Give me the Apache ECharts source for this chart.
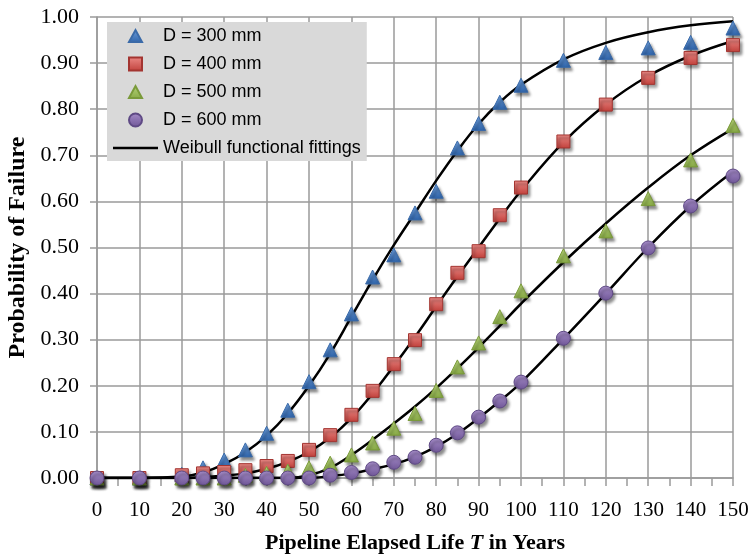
<!DOCTYPE html>
<html>
<head>
<meta charset="utf-8">
<script src="https://cdn.jsdelivr.net/npm/echarts@6/dist/echarts.min.js"></script>
<style>html,body{margin:0;padding:0;background:#fff}#c{width:753px;height:557px}</style>
</head>
<body>
<div id="c"></div>
<script>
// Years at which observations are plotted
var years = [0, 10, 20, 25, 30, 35, 40, 45, 50, 55, 60, 65, 70, 75, 80, 85, 90, 95, 100, 110, 120, 130, 140, 150];
// Observed probability of failure
var d300 = [0, 0, 0.008, 0.022, 0.039, 0.061, 0.097, 0.147, 0.209, 0.278, 0.356, 0.436, 0.484, 0.575, 0.622, 0.716, 0.769, 0.815, 0.852, 0.906, 0.923, 0.933, 0.945, 0.976];
var d400 = [0, 0, 0.006, 0.010, 0.013, 0.017, 0.026, 0.037, 0.061, 0.093, 0.137, 0.189, 0.247, 0.299, 0.377, 0.445, 0.492, 0.570, 0.630, 0.730, 0.810, 0.868, 0.911, 0.939];
var d500 = [0, 0, 0, 0, 0, 0.006, 0.010, 0.015, 0.022, 0.032, 0.050, 0.076, 0.108, 0.140, 0.190, 0.241, 0.293, 0.350, 0.406, 0.482, 0.536, 0.606, 0.690, 0.765];
var d600 = [0, 0, 0, 0, 0, 0, 0, 0, 0, 0.006, 0.012, 0.020, 0.034, 0.045, 0.071, 0.098, 0.132, 0.167, 0.208, 0.303, 0.401, 0.499, 0.590, 0.655];
// Weibull fitted curves
var fitYears = [0, 10, 20, 25, 30, 35, 40, 45, 50, 55, 60, 65, 70, 75, 80, 85, 90, 95, 100, 110, 120, 130, 140, 150];
var fit300 = [0, 0, 0.003, 0.012, 0.030, 0.056, 0.092, 0.140, 0.200, 0.270, 0.350, 0.430, 0.505, 0.575, 0.645, 0.710, 0.768, 0.815, 0.853, 0.908, 0.944, 0.967, 0.982, 0.991];
var fit400 = [0, 0, 0, 0.002, 0.005, 0.010, 0.020, 0.035, 0.057, 0.088, 0.130, 0.183, 0.243, 0.306, 0.372, 0.437, 0.500, 0.563, 0.623, 0.728, 0.810, 0.872, 0.916, 0.948];
var fit500 = [0, 0, 0, 0, 0, 0, 0, 0, 0.006, 0.022, 0.050, 0.083, 0.118, 0.155, 0.195, 0.238, 0.283, 0.330, 0.378, 0.468, 0.552, 0.630, 0.700, 0.758];
var fit600 = [0, 0, 0, 0, 0, 0, 0, 0, 0, 0.004, 0.010, 0.019, 0.030, 0.046, 0.068, 0.096, 0.130, 0.167, 0.207, 0.302, 0.400, 0.500, 0.590, 0.665];
var xTicks = [0, 10, 20, 30, 40, 50, 60, 70, 80, 90, 100, 110, 120, 130, 140, 150];
var yTicks = [0, 0.1, 0.2, 0.3, 0.4, 0.5, 0.6, 0.7, 0.8, 0.9, 1.0];
var names = ['D = 300 mm', 'D = 400 mm', 'D = 500 mm', 'D = 600 mm', 'Weibull functional fittings'];

function pairs(xs, ys) { return xs.map(function (x, i) { return [x, ys[i]]; }); }
function grad(top, bottom) {
  return { type: 'linear', x: 0, y: 0, x2: 0, y2: 1, colorStops: [{ offset: 0, color: top }, { offset: 1, color: bottom }] };
}
var shadow = { shadowBlur: 3, shadowOffsetX: 2, shadowOffsetY: 3, shadowColor: 'rgba(0,0,0,0.45)' };
function scatter(name, data, symbol, size, top, bottom, border) {
  return {
    name: name, type: 'scatter', data: pairs(years, data), symbol: symbol, symbolSize: size, z: 4,
    itemStyle: Object.assign({ color: grad(top, bottom), borderColor: border, borderWidth: 1, opacity: 1 }, shadow),
    emphasis: { disabled: true }
  };
}
function fit(data) {
  return {
    name: names[4], type: 'line', data: pairs(fitYears, data), symbol: 'none', smooth: 0.4, z: 2,
    lineStyle: { color: '#000', width: 2.5 }, itemStyle: { color: '#000' }
  };
}
// legend icons (45 x 13 box, marker centred)
var triIcon = 'path://M0,0M45,13M16,12.5L22.5,0.5L29,12.5Z';
var sqIcon = 'path://M0,0M45,13M16,0L29,0L29,13L16,13Z';
var cirIcon = 'path://M0,0M45,13M29,6.5A6.5,6.5,0,1,1,16,6.5A6.5,6.5,0,1,1,29,6.5Z';
var lineIcon = 'path://M0,0M45,13M0,5.3L45,5.3L45,7.7L0,7.7Z';

var chart = echarts.init(document.getElementById('c'), null, { renderer: 'canvas' });
var grayLine = { color: '#9a9a9a', width: 1.5 };
chart.setOption({
  animation: false,
  backgroundColor: '#fff',
  grid: { left: 97, right: 20, top: 17, bottom: 79, containLabel: false, outerBoundsMode: 'none' },
  legend: {
    data: [
      { name: names[0], icon: triIcon },
      { name: names[1], icon: sqIcon },
      { name: names[2], icon: triIcon },
      { name: names[3], icon: cirIcon },
      { name: names[4], icon: lineIcon }
    ],
    orient: 'vertical', left: 107, top: 22,
    backgroundColor: '#d9d9d9', padding: [5, 6, 4, 5], itemGap: 10,
    itemWidth: 45, itemHeight: 13,
    textStyle: { fontFamily: 'Liberation Sans', fontSize: 18, color: '#000' }
  },
  xAxis: {
    type: 'value', min: 0, max: 150, interval: 10,
    name: '{a|Pipeline Elapsed Life }{b|T}{a| in Years}', nameLocation: 'middle', nameGap: 54,
    nameTextStyle: { rich: {
      a: { fontFamily: 'Liberation Serif', fontSize: 22, fontWeight: 'bold', color: '#000' },
      b: { fontFamily: 'Liberation Serif', fontSize: 22, fontWeight: 'bold', fontStyle: 'italic', color: '#000' } } },
    axisLine: { lineStyle: grayLine },
    axisTick: { show: true, length: 8, lineStyle: grayLine },
    minorTick: { show: true, splitNumber: 2, length: 8, lineStyle: grayLine },
    splitLine: { show: true, lineStyle: grayLine },
    axisLabel: { fontFamily: 'Liberation Serif', fontSize: 21, color: '#000', margin: 22,
      formatter: function (v) { return xTicks.indexOf(v) >= 0 ? String(v) : ''; } }
  },
  yAxis: {
    type: 'value', min: 0, max: 1, interval: 0.1,
    name: 'Probability of Failure', nameLocation: 'middle', nameGap: 65,
    nameTextStyle: { fontFamily: 'Liberation Serif', fontSize: 24, fontWeight: 'bold', color: '#000' },
    axisLine: { show: true, lineStyle: grayLine },
    axisTick: { show: true, length: 7, lineStyle: grayLine },
    splitLine: { show: true, lineStyle: grayLine },
    axisLabel: { fontFamily: 'Liberation Serif', fontSize: 22, color: '#000', margin: 18,
      formatter: function (v) {
        for (var i = 0; i < yTicks.length; i++) { if (Math.abs(yTicks[i] - v) < 1e-9) return yTicks[i].toFixed(2); }
        return '';
      } }
  },
  series: [
    fit(fit300), fit(fit400), fit(fit500), fit(fit600),
    scatter(names[0], d300, 'triangle', 14, '#6e9fdc', '#2d62a8', '#3a6aa8'),
    scatter(names[1], d400, 'rect', 13, '#ec8a86', '#c0403b', '#a33531'),
    scatter(names[2], d500, 'triangle', 14, '#b7d57a', '#86a844', '#7a9a3a'),
    scatter(names[3], d600, 'circle', 14, '#a68dc9', '#6f5697', '#5f4a85')
  ]
});
</script>
</body>
</html>
